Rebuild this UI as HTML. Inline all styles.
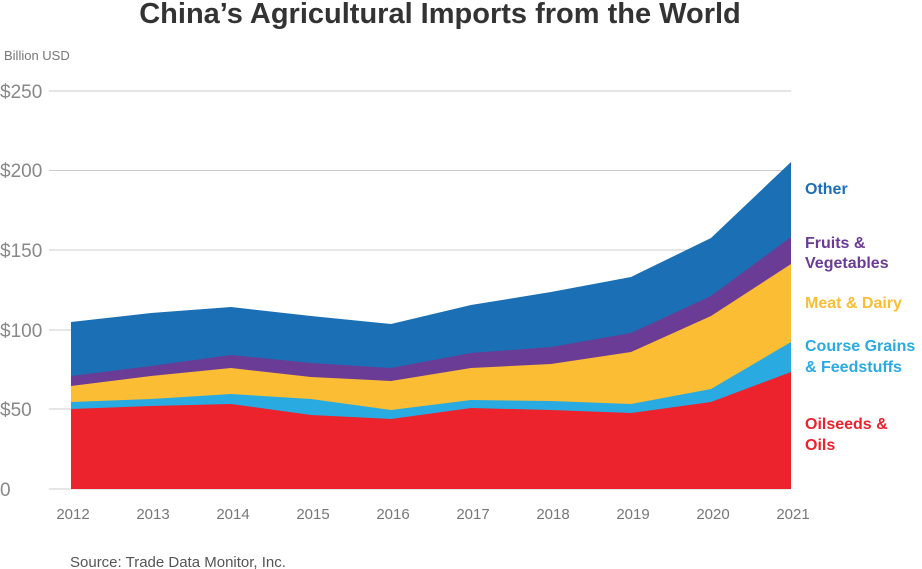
<!DOCTYPE html>
<html><head><meta charset="utf-8"><style>
body{margin:0;background:#fff;}
svg{display:block;font-family:"Liberation Sans",Arial,sans-serif;}
</style></head><body>
<svg width="922" height="569" viewBox="0 0 922 569">
<text x="440" y="23" text-anchor="middle" font-size="29" font-weight="bold" fill="#333">China’s Agricultural Imports from the World</text>
<text x="4" y="60" font-size="13" fill="#777">Billion USD</text>
<g stroke="#ccc" stroke-width="1">
<line x1="49" x2="791" y1="91" y2="91"/><line x1="49" x2="791" y1="170.5" y2="170.5"/><line x1="49" x2="791" y1="250" y2="250"/><line x1="49" x2="791" y1="330" y2="330"/><line x1="49" x2="791" y1="409" y2="409"/><line x1="49" x2="791" y1="489" y2="489"/>
</g>
<g font-size="19" fill="#888">
<text x="0" y="98">$250</text><text x="0" y="177">$200</text><text x="0" y="257">$150</text><text x="0" y="337">$100</text><text x="0" y="416">$50</text><text x="0" y="496">0</text>
</g>
<polygon fill="#1a6fb5" points="71,322 151,313 231,307 311,316 391,324 471,305 551,292 631,277 711,238 791,162 791,489 71,489"/>
<polygon fill="#6b3c95" points="71,376 151,366 231,355 311,363 391,368 471,353 551,347 631,333 711,296 791,237 791,489 71,489"/>
<polygon fill="#fbbd34" points="71,386 151,376 231,368 311,377 391,381 471,368 551,364 631,352 711,316 791,264 791,489 71,489"/>
<polygon fill="#29abe2" points="71,402 151,399 231,394 311,399 391,410 471,400 551,401 631,404 711,389 791,342 791,489 71,489"/>
<polygon fill="#ec222d" points="71,409 151,406 231,404 311,415 391,419 471,408 551,410 631,413 711,402 791,372 791,489 71,489"/>
<g font-size="15" fill="#777" text-anchor="middle">
<text x="73" y="519">2012</text><text x="153" y="519">2013</text><text x="233" y="519">2014</text><text x="313" y="519">2015</text><text x="393" y="519">2016</text><text x="473" y="519">2017</text><text x="553" y="519">2018</text><text x="633" y="519">2019</text><text x="713" y="519">2020</text><text x="793" y="519">2021</text>
</g>
<g font-size="16" font-weight="bold">
<text x="805" y="194" fill="#1a6fb5">Other</text>
<text x="805" y="248" fill="#6b3c95">Fruits &amp;</text><text x="805" y="268" fill="#6b3c95">Vegetables</text>
<text x="805" y="308" fill="#fbbd34">Meat &amp; Dairy</text>
<text x="805" y="351" fill="#29abe2">Course Grains</text><text x="805" y="372" fill="#29abe2">&amp; Feedstuffs</text>
<text x="805" y="429" fill="#ec222d">Oilseeds &amp;</text><text x="805" y="450" fill="#ec222d">Oils</text>
</g>
<text x="70" y="567" font-size="15" fill="#555">Source: Trade Data Monitor, Inc.</text>
</svg>
</body></html>
